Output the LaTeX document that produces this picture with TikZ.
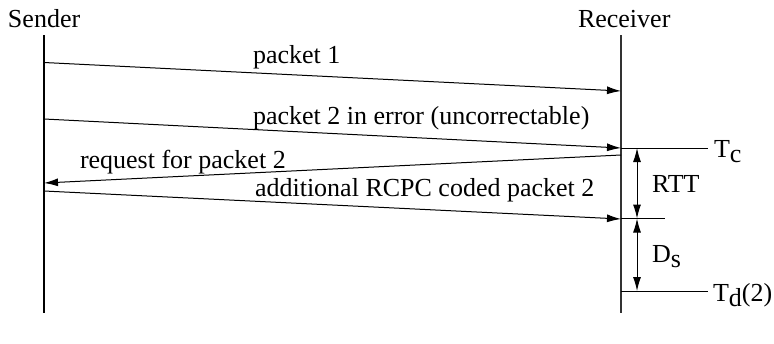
\documentclass[tikz,border=0pt]{standalone}
\usepackage{fontspec}
\setmainfont{Liberation Serif}
\usetikzlibrary{arrows.meta}
\newcommand{\lowsub}[1]{\raisebox{-0.22em}{#1}}
\begin{document}
\begin{tikzpicture}[x=0.5pt,y=-0.5pt,
  every node/.style={inner sep=0pt,outer sep=0pt,font=\fontsize{13}{15}\selectfont},
  lifeline/.style={line width=0.55pt,black},
  msg/.style={line width=0.5pt,-{Latex[length=7pt,width=4pt]}},
  tickline/.style={line width=0.5pt},
  spanarrow/.style={line width=0.5pt,{Latex[length=7pt,width=4pt]}-{Latex[length=7pt,width=4pt]}},
  lbl/.style={anchor=base west}]
\useasboundingbox (0,0) rectangle (774,343);
% lifelines
\coordinate (stop) at (44,35);
\coordinate (sbot) at (44,313);
\coordinate (rtop) at (621,35);
\coordinate (rbot) at (621,313);
\draw[lifeline] (stop) -- (sbot);
\draw[lifeline,line width=0.8pt,black!80] (rtop) -- (rbot);
\node[lbl] (sender) at (8,27) {Sender};
\node[lbl] (receiver) at (578,27) {Receiver};
% message endpoints
\coordinate (s1) at (44,62.5);
\coordinate (r1) at (621,91);
\coordinate (s2) at (44,119);
\coordinate (r2) at (621,148);
\coordinate (r3) at (621,155);
\coordinate (s3) at (44,183);
\coordinate (s4) at (44,191);
\coordinate (r4) at (621,219);
\draw[msg] (s1) -- (r1);
\draw[msg] (s2) -- (r2);
\draw[msg] (r3) -- (s3);
\draw[msg] (s4) -- (r4);
\node[lbl] (m1) at (253,63) {packet 1};
\node[lbl] (m2) at (253,124) {packet 2 in error (uncorrectable)};
\node[lbl] (m3) at (80,168) {request for packet 2};
\node[lbl] (m4) at (255,196.5) {additional RCPC coded packet 2};
% time marks
\coordinate (tc0) at (621,148);
\coordinate (tc1) at (708,148);
\coordinate (tm0) at (621,218.5);
\coordinate (tm1) at (665,218.5);
\coordinate (td0) at (621,291);
\coordinate (td1) at (708,291);
\draw[tickline] (tc0) -- (tc1);
\draw[tickline] (tm0) -- (tm1);
\draw[tickline] (td0) -- (td1);
\coordinate (a0) at (637,148);
\coordinate (a1) at (637,218.5);
\coordinate (a2) at (637,291);
\draw[spanarrow] (a0) -- (a1);
\draw[spanarrow] (a1) -- (a2);
\node[lbl] (tc) at (714,157) {T\lowsub{c}};
\node[lbl] (td) at (713,301) {T\lowsub{d}(2)};
\node[lbl] (rtt) at (652,192) {RTT};
\node[lbl] (ds) at (652,262) {D\lowsub{s}};
\end{tikzpicture}
\end{document}
